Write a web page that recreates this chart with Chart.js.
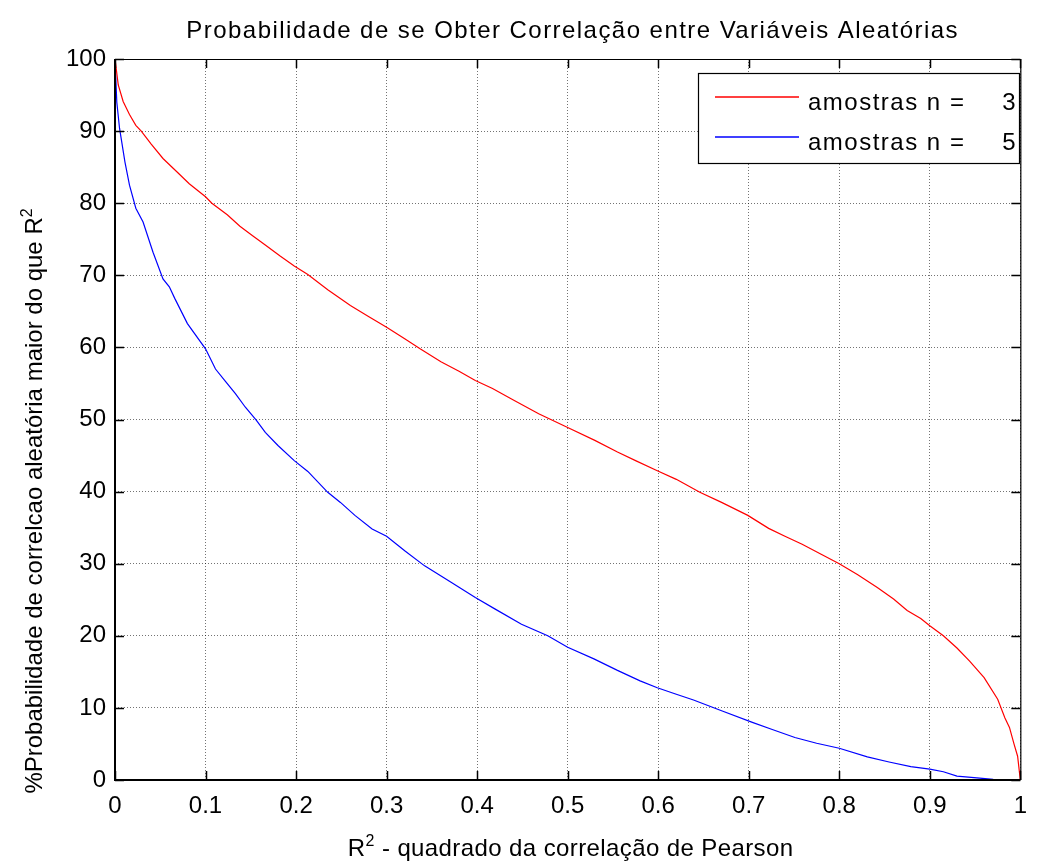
<!DOCTYPE html>
<html>
<head>
<meta charset="utf-8">
<script src="https://cdn.jsdelivr.net/npm/chart.js@4"></script>
<style>
html,body{margin:0;padding:0;background:#ffffff;}
#wrap{width:1039px;height:863px;position:relative;}
canvas{display:block;}
</style>
</head>
<body>
<div id="wrap"><canvas id="c" width="1039" height="863"></canvas></div>
<script>
// ---- Texts ----
const chartTitle = 'Probabilidade de se Obter Correlação entre Variáveis Aleatórias';
const xAxisTitleBase = 'R';
const xAxisTitleSup = '2';
const xAxisTitleRest = ' - quadrado da correlação de Pearson';
const yAxisTitleBase = '%Probabilidade de correlcao aleatória maior do que R';
const yAxisTitleSup = '2';
const legendPrefix = 'amostras n =';
const sampleSizes = [3, 5];
const seriesColors = ['#ff0000', '#0000ff'];

// ---- Tick labels ----
const xTickLabels = ['0', '0.1', '0.2', '0.3', '0.4', '0.5', '0.6', '0.7', '0.8', '0.9', '1'];
const yTickLabels = ['0', '10', '20', '30', '40', '50', '60', '70', '80', '90', '100'];

// ---- Series n = 3 (red) ----
const r2_n3 = [0, 0.0036, 0.009, 0.016, 0.023, 0.029, 0.04, 0.053, 0.068, 0.082, 0.1, 0.107, 0.124, 0.138, 0.152, 0.166, 0.182, 0.198, 0.213, 0.235, 0.26, 0.28, 0.30, 0.32, 0.337, 0.36, 0.38, 0.398, 0.417, 0.44, 0.468, 0.50, 0.53, 0.555, 0.575, 0.599, 0.62, 0.646, 0.67, 0.699, 0.722, 0.74, 0.759, 0.78, 0.80, 0.82, 0.842, 0.86, 0.875, 0.89, 0.9, 0.915, 0.93, 0.944, 0.96, 0.975, 0.983, 0.988, 0.993, 0.997, 1];
const prob_n3 = [100, 96.4, 94.1, 92.3, 90.8, 90.0, 88.2, 86.2, 84.4, 82.7, 80.9, 80.0, 78.4, 76.8, 75.5, 74.2, 72.7, 71.3, 70.1, 68.0, 65.8, 64.3, 62.8, 61.2, 59.8, 58.0, 56.7, 55.4, 54.3, 52.7, 50.8, 48.9, 47.1, 45.5, 44.3, 42.9, 41.7, 39.9, 38.5, 36.7, 34.9, 33.8, 32.7, 31.3, 30.0, 28.5, 26.7, 25.1, 23.5, 22.4, 21.4, 20.0, 18.3, 16.5, 14.2, 11.2, 8.6, 7.3, 5.0, 3.3, 0];

// ---- Series n = 5 (blue) ----
const r2_n5 = [0, 0.002, 0.005, 0.011, 0.016, 0.023, 0.031, 0.042, 0.053, 0.06, 0.066, 0.08, 0.1, 0.111, 0.122, 0.133, 0.144, 0.156, 0.166, 0.18, 0.198, 0.213, 0.235, 0.249, 0.265, 0.284, 0.3, 0.32, 0.342, 0.369, 0.398, 0.42, 0.449, 0.478, 0.50, 0.529, 0.555, 0.58, 0.599, 0.62, 0.639, 0.67, 0.704, 0.726, 0.751, 0.775, 0.80, 0.831, 0.855, 0.879, 0.9, 0.915, 0.93, 0.952, 0.97, 1];
const prob_n5 = [100, 94, 90.4, 85.7, 82.5, 79.3, 77.4, 73.2, 69.5, 68.4, 66.8, 63.3, 59.8, 57.0, 55.3, 53.6, 51.7, 49.9, 48.2, 46.4, 44.3, 42.8, 39.9, 38.5, 36.7, 34.8, 33.8, 31.8, 29.7, 27.6, 25.3, 23.7, 21.6, 20.0, 18.4, 16.8, 15.2, 13.75, 12.8, 11.9, 11.1, 9.6, 8.0, 7.0, 5.9, 5.1, 4.4, 3.2, 2.5, 1.85, 1.5, 1.15, 0.55, 0.3, 0.1, 0];

const FONT = '"Liberation Sans", Arial, Helvetica, sans-serif';

function toPoints(xs, ys) { return xs.map((x, i) => ({ x: x, y: ys[i] })); }

const decor = {
  id: 'decor',
  beforeDraw(chart) {
    const ctx = chart.ctx;
    ctx.save();
    ctx.fillStyle = '#ffffff';
    ctx.fillRect(0, 0, chart.width, chart.height);
    ctx.restore();
  },
  afterDraw(chart) {
    const ctx = chart.ctx;
    const a = chart.chartArea;
    const xs = chart.scales.x, ys = chart.scales.y;
    ctx.save();
    // inward ticks on all four sides
    ctx.strokeStyle = '#000000';
    ctx.lineWidth = 1.5;
    const tl = 9;
    ctx.beginPath();
    xs.ticks.forEach(t => {
      const px = Math.round(xs.getPixelForValue(t.value)) + 0.5;
      ctx.moveTo(px, a.bottom); ctx.lineTo(px, a.bottom - tl);
      ctx.moveTo(px, a.top); ctx.lineTo(px, a.top + tl);
    });
    ys.ticks.forEach(t => {
      const py = Math.round(ys.getPixelForValue(t.value)) + 0.5;
      ctx.moveTo(a.left, py); ctx.lineTo(a.left + tl, py);
      ctx.moveTo(a.right, py); ctx.lineTo(a.right - tl, py);
    });
    ctx.stroke();
    // axes box
    ctx.lineWidth = 2;
    ctx.beginPath();
    ctx.moveTo(a.left, a.top); ctx.lineTo(a.left, a.bottom); ctx.lineTo(a.right, a.bottom);
    ctx.stroke();
    ctx.lineWidth = 1.2;
    ctx.beginPath();
    ctx.moveTo(a.left, a.top + 0.5); ctx.lineTo(a.right, a.top + 0.5);
    ctx.moveTo(a.right + 0.5, a.top); ctx.lineTo(a.right + 0.5, a.bottom);
    ctx.stroke();

    ctx.fillStyle = '#000000';
    // title
    ctx.font = '24px ' + FONT;
    ctx.letterSpacing = '1.45px';
    ctx.textAlign = 'center';
    ctx.textBaseline = 'alphabetic';
    ctx.fillText(chartTitle, (a.left + a.right) / 2 + 5, 38);

    // x axis title with superscript
    ctx.letterSpacing = '0.4px';
    ctx.textAlign = 'left';
    ctx.font = '24px ' + FONT;
    const wB = ctx.measureText(xAxisTitleBase).width;
    const wR = ctx.measureText(xAxisTitleRest).width;
    ctx.font = '16px ' + FONT;
    const wS = ctx.measureText(xAxisTitleSup).width;
    const xStart = (a.left + a.right) / 2 - (wB + wS + wR) / 2 + 3;
    const xBase = 856;
    ctx.font = '24px ' + FONT;
    ctx.fillText(xAxisTitleBase, xStart, xBase);
    ctx.font = '16px ' + FONT;
    ctx.fillText(xAxisTitleSup, xStart + wB, xBase - 10);
    ctx.font = '24px ' + FONT;
    ctx.fillText(xAxisTitleRest, xStart + wB + wS, xBase);

    // y axis title (rotated) with superscript
    ctx.save();
    ctx.translate(42, 501);
    ctx.rotate(-Math.PI / 2);
    ctx.letterSpacing = '0px';
    ctx.font = '24px ' + FONT;
    const wy = ctx.measureText(yAxisTitleBase).width;
    ctx.font = '16px ' + FONT;
    const wys = ctx.measureText(yAxisTitleSup).width;
    const yStart = -(wy + wys) / 2;
    ctx.font = '24px ' + FONT;
    ctx.fillText(yAxisTitleBase, yStart, 0);
    ctx.font = '16px ' + FONT;
    ctx.fillText(yAxisTitleSup, yStart + wy, -10);
    ctx.restore();

    // legend box
    const lx0 = 698, ly0 = 73, lx1 = 1019, ly1 = 163;
    ctx.fillStyle = '#ffffff';
    ctx.fillRect(lx0, ly0, lx1 - lx0, ly1 - ly0);
    ctx.strokeStyle = '#000000';
    ctx.lineWidth = 1.2;
    ctx.strokeRect(lx0 + 0.5, ly0 + 0.5, lx1 - lx0, ly1 - ly0);
    ctx.font = '24px ' + FONT;
    ctx.letterSpacing = '1.5px';
    for (let i = 0; i < sampleSizes.length; i++) {
      const rowY = 97 + i * 40;
      ctx.strokeStyle = seriesColors[i];
      ctx.lineWidth = 1.3;
      ctx.beginPath();
      ctx.moveTo(715, rowY);
      ctx.lineTo(799, rowY);
      ctx.stroke();
      ctx.fillStyle = '#000000';
      ctx.textAlign = 'left';
      ctx.fillText(legendPrefix, 808, rowY + 13);
      ctx.textAlign = 'right';
      ctx.fillText(String(sampleSizes[i]), 1017, rowY + 13);
    }
    ctx.restore();
  }
};

const tickFont = { family: FONT, size: 24 };

new Chart(document.getElementById('c'), {
  type: 'scatter',
  data: {
    datasets: [
      {
        label: legendPrefix + '    ' + sampleSizes[0],
        data: toPoints(r2_n3, prob_n3),
        showLine: true,
        borderColor: seriesColors[0],
        backgroundColor: seriesColors[0],
        borderWidth: 1.2,
        pointRadius: 0,
        tension: 0
      },
      {
        label: legendPrefix + '    ' + sampleSizes[1],
        data: toPoints(r2_n5, prob_n5),
        showLine: true,
        borderColor: seriesColors[1],
        backgroundColor: seriesColors[1],
        borderWidth: 1.2,
        pointRadius: 0,
        tension: 0
      }
    ]
  },
  options: {
    responsive: false,
    animation: false,
    devicePixelRatio: 1,
    layout: { padding: { top: 59, right: 8, left: 0, bottom: 0 } },
    plugins: {
      legend: { display: false },
      title: { display: false },
      tooltip: { enabled: false }
    },
    scales: {
      x: {
        type: 'linear',
        min: 0,
        max: 1,
        afterFit(s) { s.height = 83; },
        ticks: {
          stepSize: 0.1,
          autoSkip: false,
          maxRotation: 0,
          color: '#000000',
          font: tickFont,
          padding: 12,
          callback: (v, i) => xTickLabels[i]
        },
        grid: { color: 'rgba(0,0,0,0.55)', lineWidth: 1, drawTicks: false },
        border: { display: false, dash: [1, 2] }
      },
      y: {
        type: 'linear',
        min: 0,
        max: 100,
        afterFit(s) { s.width = 115; },
        ticks: {
          stepSize: 10,
          autoSkip: false,
          color: '#000000',
          font: tickFont,
          padding: 9,
          callback: (v, i) => yTickLabels[i]
        },
        grid: { color: 'rgba(0,0,0,0.55)', lineWidth: 1, drawTicks: false },
        border: { display: false, dash: [1, 2] }
      }
    }
  },
  plugins: [decor]
});
</script>
</body>
</html>
